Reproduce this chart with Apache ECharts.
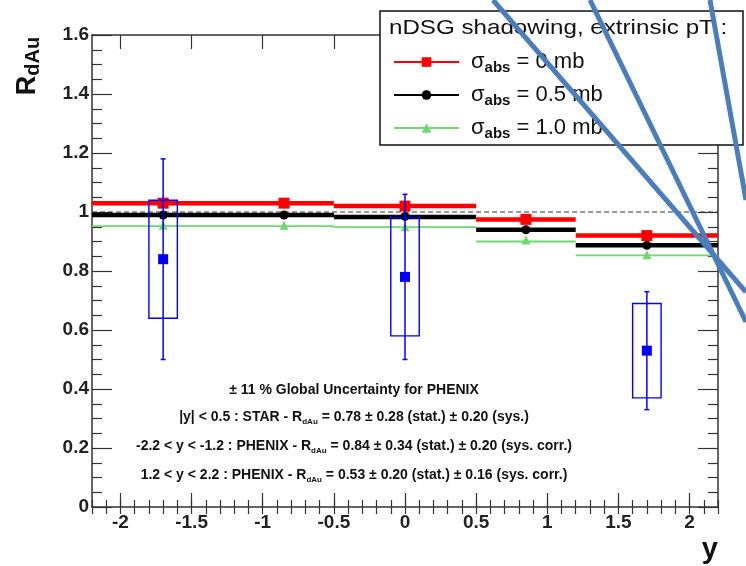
<!DOCTYPE html>
<html><head><meta charset="utf-8">
<script src="https://cdn.jsdelivr.net/npm/echarts@6/dist/echarts.min.js"></script>
<style>html,body{margin:0;padding:0;background:#fff}#c{width:746px;height:566px}</style>
</head><body><div id="c"></div>
<script>
// ---------------- data ----------------
const binEdges = [-2.2, -0.5, 0.5, 1.2, 2.2];
const sigma0Bins = [1.03, 1.02, 0.975, 0.92];
const sigma05Bins = [0.99, 0.983, 0.94, 0.887];
const sigma10Bins = [0.952, 0.949, 0.90, 0.853];
const markerX = [-1.7, -0.85, 0, 0.85, 1.7];
const sigma0Markers = [1.03, 1.03, 1.02, 0.975, 0.92];
const sigma05Markers = [0.99, 0.99, 0.985, 0.94, 0.887];
const sigma10Markers = [0.955, 0.955, 0.95, 0.905, 0.855];
const expX = [-1.7, 0, 1.7];
const expR = [0.84, 0.78, 0.53];
const expStat = [0.34, 0.28, 0.20];
const expSys = [0.20, 0.20, 0.16];
const expHalfWidth = [0.1, 0.1, 0.1];
const refLineX = [-2.2, 2.2];
const refLineY = [1, 1];
const xTickLabels = [-2, -1.5, -1, -0.5, 0, 0.5, 1, 1.5, 2];
const xMinorTicks = [-2.2,-2.1,-2,-1.9,-1.8,-1.7,-1.6,-1.5,-1.4,-1.3,-1.2,-1.1,-1,-0.9,-0.8,-0.7,-0.6,-0.5,-0.4,-0.3,-0.2,-0.1,0,0.1,0.2,0.3,0.4,0.5,0.6,0.7,0.8,0.9,1,1.1,1.2,1.3,1.4,1.5,1.6,1.7,1.8,1.9,2,2.1,2.2];
const yMin = 0, yMax = 1.6, yStep = 0.2;
const legendNames = ['sigma0', 'sigma05', 'sigma10'];
const legendLabels = {
  sigma0: '{s|σ}{sub|abs}{t| = 0 mb}',
  sigma05: '{s|σ}{sub|abs}{t| = 0.5 mb}',
  sigma10: '{s|σ}{sub|abs}{t| = 1.0 mb}'
};
const legendTitle = 'nDSG shadowing, extrinsic pT :';
const notes = [
  '{t|± 11 % Global Uncertainty for PHENIX}',
  '{t||y| < 0.5 : STAR - R}{s|dAu}{t| = 0.78 ± 0.28 (stat.) ± 0.20 (sys.)}',
  '{t|-2.2 < y < -1.2 : PHENIX - R}{s|dAu}{t| = 0.84 ± 0.34 (stat.) ± 0.20 (sys. corr.)}',
  '{t|1.2 < y < 2.2 : PHENIX - R}{s|dAu}{t| = 0.53 ± 0.20 (stat.) ± 0.16 (sys. corr.)}'
];

// ---------------- build ----------------
function stepData(vals) {
  const d = [];
  vals.forEach((v, i) => {
    d.push([binEdges[i], v]);
    d.push([binEdges[i + 1], v]);
    d.push([binEdges[i + 1], '-']);
  });
  return d;
}
const zip = (xs, ys) => xs.map((x, i) => [x, ys[i]]);
const expData = expX.map((x, i) => [x, expR[i], expStat[i], expSys[i], expHalfWidth[i]]);

const FONT = 'Liberation Sans, Arial, sans-serif';
const BLUE = '#0000ff';
const RED = '#ff0000', BLACK = '#000000', GREEN = '#6fd86f';

const chart = echarts.init(document.getElementById('c'), null, {renderer: 'canvas'});

const tickAxisBase = {
  type: 'value', min: -2.2, max: 2.2, gridIndex: 0,
  axisLabel: {show: false}, splitLine: {show: false}
};

const option = {
  animation: false,
  backgroundColor: '#fff',
  grid: {left: 92, right: 28, top: 35, bottom: 59, show: false},
  xAxis: [
    Object.assign({}, tickAxisBase, {
      position: 'bottom',
      axisLine: {show: true, onZero: false, lineStyle: {color: '#333', width: 1.5}},
      axisTick: {show: true, inside: true, length: 14, customValues: xTickLabels, lineStyle: {color: '#333', width: 1.2}},
      axisLabel: {show: true, customValues: xTickLabels, margin: 6, fontSize: 19, fontWeight: 'bold', fontFamily: FONT, color: '#222',
        formatter: v => String(v)}
    }),
    Object.assign({}, tickAxisBase, {
      position: 'bottom',
      axisLine: {show: false},
      axisTick: {show: true, inside: true, length: 7, customValues: xMinorTicks, lineStyle: {color: '#333', width: 1.2}}
    }),
    Object.assign({}, tickAxisBase, {
      position: 'top',
      axisLine: {show: true, onZero: false, lineStyle: {color: '#333', width: 1.5}},
      axisTick: {show: true, inside: true, length: 14, customValues: xTickLabels, lineStyle: {color: '#333', width: 1.2}}
    }),
    Object.assign({}, tickAxisBase, {
      position: 'top',
      axisLine: {show: false},
      axisTick: {show: true, inside: true, length: 7, customValues: xMinorTicks, lineStyle: {color: '#333', width: 1.2}}
    })
  ],
  yAxis: [
    {
      type: 'value', min: yMin, max: yMax, interval: yStep, position: 'left',
      axisLine: {show: true, onZero: false, lineStyle: {color: '#333', width: 1.5}},
      axisTick: {show: true, inside: true, length: 20, lineStyle: {color: '#333', width: 1.2}},
      minorTick: {show: true, splitNumber: 4, length: 10, lineStyle: {color: '#333', width: 1.2}},
      axisLabel: {margin: 3, fontSize: 19, fontWeight: 'bold', fontFamily: FONT, color: '#222'},
      splitLine: {show: false}
    },
    {
      type: 'value', min: yMin, max: yMax, interval: yStep, position: 'right',
      axisLine: {show: true, onZero: false, lineStyle: {color: '#333', width: 1.5}},
      axisTick: {show: true, inside: true, length: 20, lineStyle: {color: '#333', width: 1.2}},
      minorTick: {show: true, splitNumber: 4, length: 10, lineStyle: {color: '#333', width: 1.2}},
      axisLabel: {show: false},
      splitLine: {show: false}
    }
  ],
  legend: {
    orient: 'vertical', left: 393, top: 51, padding: 0,
    itemWidth: 65, itemHeight: 12, itemGap: 9,
    selectedMode: false, z: 60,
    data: legendNames,
    formatter: n => legendLabels[n],
    textStyle: {
      fontFamily: FONT, color: '#111',
      rich: {
        s: {fontSize: 22, fontFamily: FONT, lineHeight: 26, padding: [0, 0, 0, 7], color: '#111'},
        sub: {fontSize: 15, fontFamily: FONT, fontWeight: 'bold', lineHeight: 10, verticalAlign: 'bottom', color: '#111'},
        t: {fontSize: 22, fontFamily: FONT, lineHeight: 26, color: '#111'}
      }
    }
  },
  series: [
    {
      type: 'line', name: 'ref', data: zip(refLineX, refLineY), symbol: 'none', silent: true,
      lineStyle: {color: '#333', width: 1.2, type: [5, 3]}, z: 2
    },
    {
      type: 'line', name: 'sigma10', data: stepData(sigma10Bins), connectNulls: false,
      symbol: 'triangle', showSymbol: false, color: GREEN,
      lineStyle: {color: GREEN, width: 1.8}, itemStyle: {color: GREEN}, z: 3
    },
    {
      type: 'line', name: 'sigma05', data: stepData(sigma05Bins), connectNulls: false,
      symbol: 'circle', showSymbol: false, color: BLACK,
      lineStyle: {color: BLACK, width: 4.5}, itemStyle: {color: BLACK}, z: 4
    },
    {
      type: 'line', name: 'sigma0', data: stepData(sigma0Bins), connectNulls: false,
      symbol: 'rect', showSymbol: false, color: RED,
      lineStyle: {color: RED, width: 4.5}, itemStyle: {color: RED}, z: 5
    },
    {
      type: 'scatter', name: 'sigma10m', data: zip(markerX, sigma10Markers),
      symbol: 'triangle', symbolSize: 9, itemStyle: {color: GREEN, opacity: 1}, z: 6
    },
    {
      type: 'scatter', name: 'sigma05m', data: zip(markerX, sigma05Markers),
      symbol: 'circle', symbolSize: 9, itemStyle: {color: BLACK, opacity: 1}, z: 6
    },
    {
      type: 'scatter', name: 'sigma0m', data: zip(markerX, sigma0Markers),
      symbol: 'rect', symbolSize: 11, itemStyle: {color: RED, opacity: 1}, z: 6
    },
    {
      type: 'custom', name: 'data', data: expData, z: 8,
      encode: {x: 0, y: 1},
      renderItem: function (params, api) {
        const x = api.value(0), v = api.value(1), st = api.value(2), sy = api.value(3), hw = api.value(4);
        const c = api.coord([x, v]);
        const pTop = api.coord([x, v + st]);
        const pBot = api.coord([x, v - st]);
        const bTL = api.coord([x - hw, v + sy]);
        const bBR = api.coord([x + hw, v - sy]);
        const ls = {stroke: BLUE, lineWidth: 1.5, fill: null};
        return {
          type: 'group',
          children: [
            {type: 'rect', shape: {x: bTL[0], y: bTL[1], width: bBR[0] - bTL[0], height: bBR[1] - bTL[1]}, style: {stroke: BLUE, lineWidth: 1.4, fill: 'none'}},
            {type: 'line', shape: {x1: c[0], y1: pTop[1], x2: c[0], y2: pBot[1]}, style: ls},
            {type: 'line', shape: {x1: c[0] - 2.5, y1: pTop[1], x2: c[0] + 2.5, y2: pTop[1]}, style: ls},
            {type: 'line', shape: {x1: c[0] - 2.5, y1: pBot[1], x2: c[0] + 2.5, y2: pBot[1]}, style: ls},
            {type: 'rect', shape: {x: c[0] - 5, y: c[1] - 5, width: 10, height: 10}, style: {fill: BLUE, stroke: null}}
          ]
        };
      }
    }
  ],
  graphic: [
    {type: 'rect', z: 50, shape: {x: 380, y: 11, width: 363, height: 134},
      style: {fill: '#fff', stroke: '#111', lineWidth: 1.5}},
    {type: 'text', z: 55, x: 389, y: 28, scaleX: 1.15,
      style: {text: legendTitle, font: '21px ' + FONT, fill: '#111', verticalAlign: 'middle', align: 'left'}},
    // y axis title
    {type: 'text', z: 55, x: 28, y: 66, rotation: Math.PI / 2,
      style: {text: '{r|R}{s|dAu}', align: 'center', verticalAlign: 'middle',
        rich: {r: {fontSize: 27, fontWeight: 'bold', fontFamily: FONT, fill: '#111', lineHeight: 30},
               s: {fontSize: 20, fontWeight: 'bold', fontFamily: FONT, fill: '#111', lineHeight: 14, verticalAlign: 'bottom'}}}},
    // x axis title
    {type: 'text', z: 55, x: 718, y: 550,
      style: {text: 'y', font: 'bold 29px ' + FONT, fill: '#111', align: 'right', verticalAlign: 'middle'}},
    // notes
    ...notes.map((t, i) => ({
      type: 'text', z: 20, x: 354, y: [390, 417, 446, 475][i],
      style: {text: t, align: 'center', verticalAlign: 'middle',
        rich: {t: {fontSize: 14, fontWeight: 'bold', fontFamily: FONT, fill: '#111', lineHeight: 18},
               s: {fontSize: 8, fontWeight: 'bold', fontFamily: FONT, fill: '#111', lineHeight: 8, verticalAlign: 'bottom'}}}
    })),
    // slide overlay strokes
    {type: 'line', z: 100, shape: {x1: 493, y1: 0, x2: 746, y2: 292}, style: {stroke: '#4a7ebb', lineWidth: 5}},
    {type: 'line', z: 100, shape: {x1: 590, y1: 0, x2: 746, y2: 322}, style: {stroke: '#4a7ebb', lineWidth: 5}},
    {type: 'line', z: 100, shape: {x1: 710, y1: 0, x2: 746, y2: 200}, style: {stroke: '#4a7ebb', lineWidth: 5}}
  ]
};
chart.setOption(option);
</script>
</body></html>
